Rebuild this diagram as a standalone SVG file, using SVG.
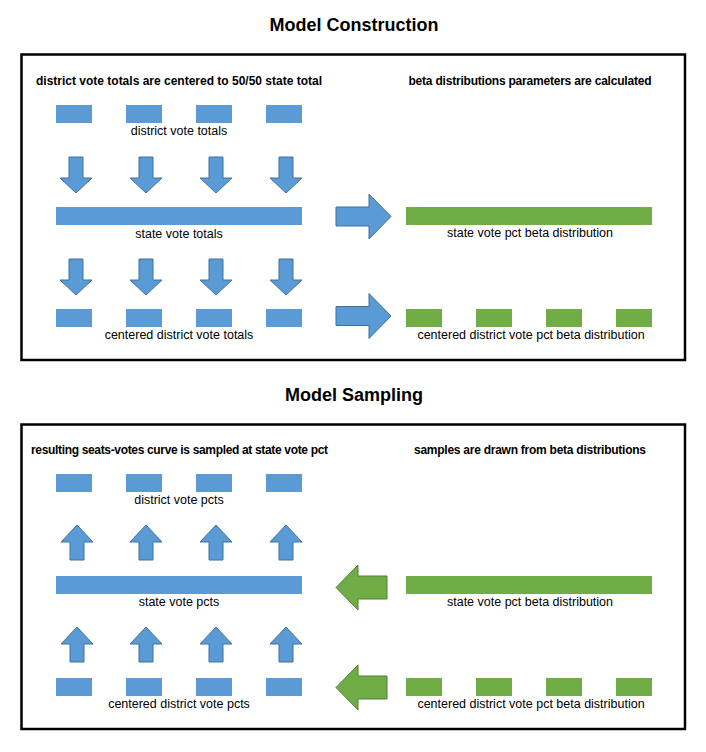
<svg xmlns="http://www.w3.org/2000/svg" width="706" height="752" viewBox="0 0 706 752">
<style>
  .bg { fill: #ffffff; }
  .frame { fill: none; stroke: #000000; stroke-width: 2.5; }
  .h1 { font-family: "Liberation Sans", Arial, sans-serif; font-weight: bold; font-size: 18px; fill: #000000; text-anchor: middle; }
  .h2 { font-family: "Liberation Sans", Arial, sans-serif; font-weight: bold; font-size: 12px; fill: #000000; text-anchor: middle; }
  .lbl { font-family: "Liberation Sans", Arial, sans-serif; font-size: 12.5px; fill: #000000; text-anchor: middle; }
  .blue { fill: #5B9BD5; }
  .green { fill: #70AD47; }
  .barrow { fill: #5B9BD5; stroke: #41719C; stroke-width: 1; }
  .garrow { fill: #70AD47; stroke: #507E32; stroke-width: 1; }
</style>
<defs>
  <path id="down1" d="M-7,0 H7 V21 H16 L0,36 L-16,21 H-7 Z"/>
  <path id="up1" d="M0,0 L16,17 H7 V35 H-7 V17 H-16 Z"/>
  <path id="right1" d="M0,-9.5 H33 V-22.5 L55,0 L33,22.5 V9.5 H0 Z"/>
  <path id="left1" d="M0,0 L22,-22.5 V-11.5 H51 V11.5 H22 V22.5 Z"/>
</defs>
<rect class="bg" x="0" y="0" width="706" height="752"/>

<g id="construction">
  <text class="h1" x="354" y="31">Model Construction</text>
  <rect class="frame" x="21.5" y="54.5" width="663.5" height="305.5"/>
  <text class="h2" x="179" y="85" textLength="286">district vote totals are centered to 50/50 state total</text>
  <text class="h2" x="530" y="85" textLength="243">beta distributions parameters are calculated</text>

  <g id="district-vote-totals">
    <rect class="blue" x="56" y="105" width="36" height="18"/>
    <rect class="blue" x="126" y="105" width="36" height="18"/>
    <rect class="blue" x="196" y="105" width="36" height="18"/>
    <rect class="blue" x="266" y="105" width="36" height="18"/>
    <text class="lbl" x="179" y="135">district vote totals</text>
  </g>

  <g id="state-vote-totals">
    <rect class="blue" x="56" y="207" width="246" height="18"/>
    <text class="lbl" x="179" y="238">state vote totals</text>
  </g>

  <g id="centered-district-vote-totals">
    <rect class="blue" x="56" y="309" width="36" height="18"/>
    <rect class="blue" x="126" y="309" width="36" height="18"/>
    <rect class="blue" x="196" y="309" width="36" height="18"/>
    <rect class="blue" x="266" y="309" width="36" height="18"/>
    <text class="lbl" x="179" y="339">centered district vote totals</text>
  </g>

  <g id="state-vote-pct-beta">
    <rect class="green" x="406" y="207" width="246" height="18"/>
    <text class="lbl" x="530" y="237">state vote pct beta distribution</text>
  </g>

  <g id="centered-district-vote-pct-beta">
    <rect class="green" x="406" y="309" width="36" height="18"/>
    <rect class="green" x="476" y="309" width="36" height="18"/>
    <rect class="green" x="546" y="309" width="36" height="18"/>
    <rect class="green" x="616" y="309" width="36" height="18"/>
    <text class="lbl" x="531" y="339">centered district vote pct beta distribution</text>
  </g>
</g>

<g id="sampling">
  <text class="h1" x="354" y="401">Model Sampling</text>
  <rect class="frame" x="21.5" y="424.5" width="663.5" height="304.5"/>
  <text class="h2" x="179.5" y="454" textLength="297">resulting seats-votes curve is sampled at state vote pct</text>
  <text class="h2" x="530" y="454" textLength="232">samples are drawn from beta distributions</text>

  <g id="district-vote-pcts">
    <rect class="blue" x="56" y="474" width="36" height="18"/>
    <rect class="blue" x="126" y="474" width="36" height="18"/>
    <rect class="blue" x="196" y="474" width="36" height="18"/>
    <rect class="blue" x="266" y="474" width="36" height="18"/>
    <text class="lbl" x="179" y="504">district vote pcts</text>
  </g>

  <g id="state-vote-pcts">
    <rect class="blue" x="56" y="576" width="246" height="18"/>
    <text class="lbl" x="179" y="606">state vote pcts</text>
  </g>

  <g id="centered-district-vote-pcts">
    <rect class="blue" x="56" y="678" width="36" height="18"/>
    <rect class="blue" x="126" y="678" width="36" height="18"/>
    <rect class="blue" x="196" y="678" width="36" height="18"/>
    <rect class="blue" x="266" y="678" width="36" height="18"/>
    <text class="lbl" x="179" y="708">centered district vote pcts</text>
  </g>

  <g id="sample-state-vote-pct-beta">
    <rect class="green" x="406" y="576" width="246" height="18"/>
    <text class="lbl" x="530" y="606">state vote pct beta distribution</text>
  </g>

  <g id="sample-centered-district-vote-pct-beta">
    <rect class="green" x="406" y="678" width="36" height="18"/>
    <rect class="green" x="476" y="678" width="36" height="18"/>
    <rect class="green" x="546" y="678" width="36" height="18"/>
    <rect class="green" x="616" y="678" width="36" height="18"/>
    <text class="lbl" x="531" y="708">centered district vote pct beta distribution</text>
  </g>
</g>

<g id="connectors">
  <use href="#down1" class="barrow" x="76" y="157"/>
  <use href="#down1" class="barrow" x="146" y="157"/>
  <use href="#down1" class="barrow" x="216" y="157"/>
  <use href="#down1" class="barrow" x="286" y="157"/>

  <use href="#down1" class="barrow" x="76" y="259"/>
  <use href="#down1" class="barrow" x="146" y="259"/>
  <use href="#down1" class="barrow" x="216" y="259"/>
  <use href="#down1" class="barrow" x="286" y="259"/>

  <use href="#right1" class="barrow" x="336" y="216.5"/>
  <use href="#right1" class="barrow" x="336" y="316"/>

  <use href="#up1" class="barrow" x="77" y="525"/>
  <use href="#up1" class="barrow" x="146" y="525"/>
  <use href="#up1" class="barrow" x="216" y="525"/>
  <use href="#up1" class="barrow" x="286" y="525"/>

  <use href="#up1" class="barrow" x="77" y="627"/>
  <use href="#up1" class="barrow" x="146" y="627"/>
  <use href="#up1" class="barrow" x="216" y="627"/>
  <use href="#up1" class="barrow" x="286" y="627"/>

  <use href="#left1" class="garrow" x="336" y="587.5"/>
  <use href="#left1" class="garrow" x="336" y="687.5"/>
</g>
</svg>
